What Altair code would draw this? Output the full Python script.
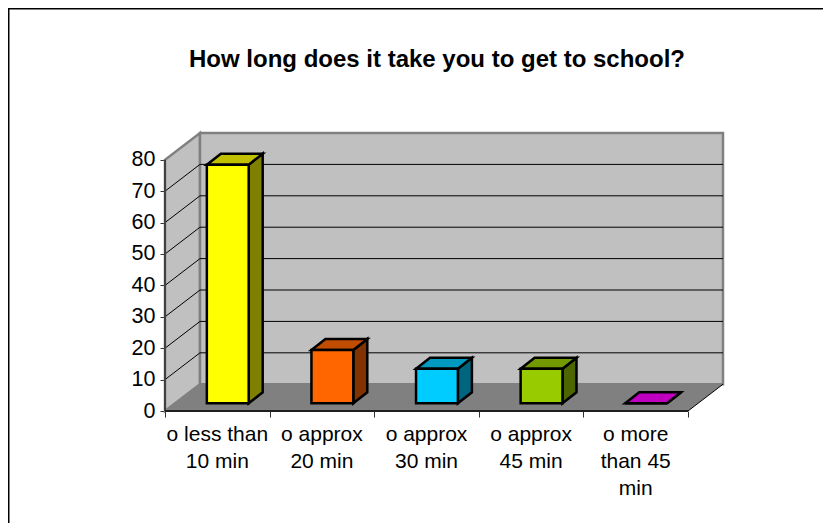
import altair as alt
import pandas as pd

TITLE = "How long does it take you to get to school?"
categories = ["o less than\n10 min", "o approx\n20 min", "o approx\n30 min", "o approx\n45 min", "o more\nthan 45\nmin"]
values = [76, 17, 11, 11, 0]
front_colors = ["#FFFF00", "#FF6600", "#00CCFF", "#99CC00", "#FF00FF"]
top_colors = ["#C0C000", "#C04D00", "#0099C0", "#739900", "#C000C0"]
side_colors = ["#808000", "#803300", "#006680", "#4D6600", "#800080"]
y_ticks = [0, 10, 20, 30, 40, 50, 60, 70, 80]
x_ticks = [0, 1, 2, 3, 4, 5]

FONT = "Liberation Sans"
W, H = 558, 278
DX, DY = 0.3346, 8.53        # wall depth in axis units
BAR_W = 0.40                 # bar front width
FX, FY = 0.10, 2.45          # bar front offset from the floor edge
BDX, BDY = 0.134, 3.5        # bar depth

x_s = alt.Scale(domain=[0, 5 + DX], nice=False, zero=False)
y_s = alt.Scale(domain=[0, 80 + DY], nice=False, zero=False)
X = lambda f: alt.X(f, type="quantitative", scale=x_s)
Y = lambda f: alt.Y(f, type="quantitative", scale=y_s, stack=None)

# walls and floor (the first layer carries both axes)
side_wall = alt.Chart(pd.DataFrame({"x": [0, DX], "y": [0, DY], "y2": [80, 80 + DY]})).mark_area(
    fill="#C0C0C0", stroke="#808080", strokeWidth=2.5
).encode(
    alt.X("x", type="quantitative", scale=x_s, axis=alt.Axis(
        values=x_ticks, tickCount=len(x_ticks), title=None, grid=False, domain=False, labels=False,
        tickColor="#303030", tickSize=6, tickWidth=1)),
    alt.Y("y", type="quantitative", scale=y_s, stack=None, axis=alt.Axis(
        values=y_ticks, tickCount=len(y_ticks), title=None, grid=False, domain=False, tickColor="#303030",
        tickSize=5, tickWidth=1, labelFont=FONT, labelFontSize=21.5, labelColor="#000000", labelPadding=5,
        labelOverlap=False, labelFlush=False)),
    y2="y2")
back_wall = alt.Chart(pd.DataFrame({"x": [DX], "x2": [5 + DX], "y": [DY], "y2": [80 + DY]})).mark_rect(
    fill="#C0C0C0", stroke="#808080", strokeWidth=2.5
).encode(X("x"), x2="x2", y=Y("y"), y2="y2")
floor = alt.Chart(pd.DataFrame({"y": [0, DY], "x": [0, DX], "x2": [5, 5 + DX]})).mark_area(
    fill="#808080", orient="horizontal"
).encode(alt.X("x", type="quantitative", scale=x_s, stack=None), x2="x2",
         y=alt.Y("y", type="quantitative", scale=y_s))

grid_vals = y_ticks[1:-1]
grid_back = alt.Chart(pd.DataFrame({"x": DX, "x2": 5 + DX, "y": [v + DY for v in grid_vals]})).mark_rule(
    color="#000000", strokeWidth=1
).encode(X("x"), x2="x2", y=Y("y"))
grid_side = alt.Chart(pd.DataFrame({"x": 0, "x2": DX, "y": grid_vals, "y2": [v + DY for v in grid_vals]})).mark_rule(
    color="#000000", strokeWidth=1
).encode(X("x"), x2="x2", y=Y("y"), y2="y2")
floor_edge = alt.Chart(pd.DataFrame({"x": [5], "x2": [5 + DX], "y": [0], "y2": [DY]})).mark_rule(
    color="#000000", strokeWidth=1
).encode(X("x"), x2="x2", y=Y("y"), y2="y2")

# bars
front_rows, side_rows, top_rows = [], [], []
for i, v in enumerate(values):
    x1 = i + 0.5 + FX - BAR_W / 2
    x2 = x1 + BAR_W
    front_rows.append(dict(x=x1, x2=x2, y=FY, y2=FY + v, c=front_colors[i]))
    side_rows += [dict(id=i, x=x2, y=FY, y2=FY + v, c=side_colors[i]),
                  dict(id=i, x=x2 + BDX, y=FY + BDY, y2=FY + v + BDY, c=side_colors[i])]
    top_rows += [dict(id=i, y=FY + v, x=x1, x2=x2, c=top_colors[i]),
                 dict(id=i, y=FY + v + BDY, x=x1 + BDX, x2=x2 + BDX, c=top_colors[i])]

bar_side = alt.Chart(pd.DataFrame(side_rows)).mark_area(stroke="#000000", strokeWidth=2.5, strokeJoin="miter").encode(
    X("x"), Y("y"), y2="y2", detail="id:N", fill=alt.Fill("c:N", scale=None))
bar_top = alt.Chart(pd.DataFrame(top_rows)).mark_area(stroke="#000000", strokeWidth=2.5, orient="horizontal", strokeJoin="miter").encode(
    alt.X("x", type="quantitative", scale=x_s, stack=None), x2="x2",
    y=alt.Y("y", type="quantitative", scale=y_s), detail="id:N", fill=alt.Fill("c:N", scale=None))
bar_front = alt.Chart(pd.DataFrame(front_rows)).mark_rect(stroke="#000000", strokeWidth=2.5).encode(
    X("x"), x2="x2", y=Y("y"), y2="y2", fill=alt.Fill("c:N", scale=None))

# axis lines
y_line = alt.Chart(pd.DataFrame({"x": [0], "y": [0], "y2": [80]})).mark_rule(color="#404040", strokeWidth=2).encode(
    X("x"), Y("y"), y2="y2")
x_line = alt.Chart(pd.DataFrame({"x": [0], "x2": [5], "y": [0]})).mark_rule(color="#202020", strokeWidth=2).encode(
    X("x"), x2="x2", y=Y("y"))

labels = alt.Chart(pd.DataFrame({"x": [i + 0.5 for i in range(5)], "t": categories})).mark_text(
    font=FONT, fontSize=21, color="#000000", baseline="top", align="center", lineBreak="\n", lineHeight=27, y=H + 13
).encode(X("x"), text="t:N")

# outer frame
frame_top = alt.Chart(pd.DataFrame({"a": [0]})).mark_rule(color="#000000", strokeWidth=2).encode(
    x=alt.value(-157), x2=alt.value(W + 100), y=alt.value(-124.5))
frame_left = alt.Chart(pd.DataFrame({"a": [0]})).mark_rule(color="#000000", strokeWidth=2).encode(
    x=alt.value(-156.5), y=alt.value(-125), y2=alt.value(H + 112))

chart = alt.layer(
    side_wall, back_wall, grid_back, grid_side, floor, floor_edge,
    bar_side, bar_top, bar_front, y_line, x_line, labels, frame_top, frame_left
).resolve_scale(x="shared", y="shared").properties(
    width=W, height=H,
    title=alt.TitleParams(TITLE, font=FONT, fontSize=24, fontWeight="bold", color="#000000",
                          anchor="middle", dx=-7, offset=-65),
    padding={"left": 157, "top": 125, "right": 100, "bottom": 112},
    autosize=alt.AutoSizeParams(type="none"),
    background="#FFFFFF",
).configure_view(stroke=None)

chart.save("out.html", embed_options={"renderer": "svg", "actions": False})
